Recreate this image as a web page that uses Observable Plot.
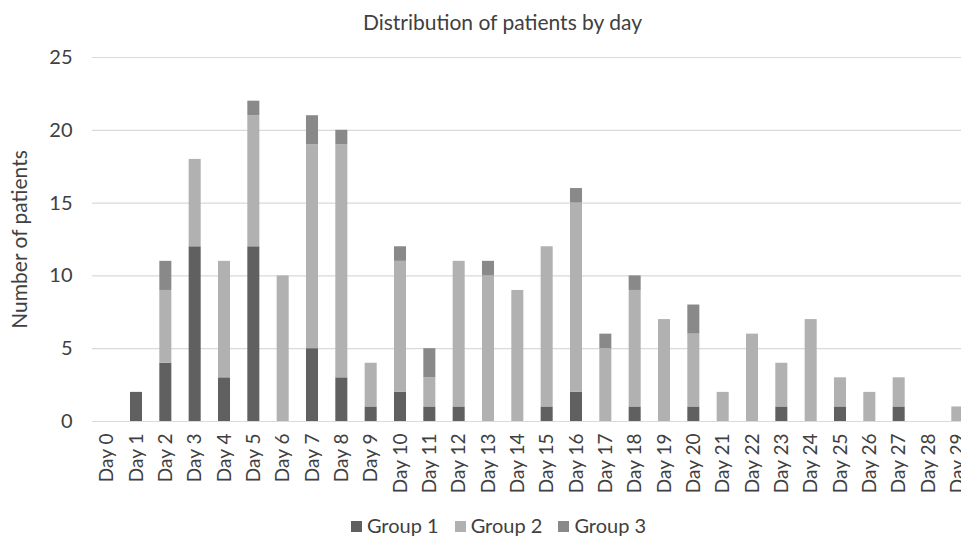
<!DOCTYPE html>
<html>
<head>
<meta charset="utf-8">
<script src="https://cdn.jsdelivr.net/npm/d3@7"></script>
<script src="https://cdn.jsdelivr.net/npm/@observablehq/plot@0.6"></script>
<style>
  html, body { margin: 0; padding: 0; background: #fff; overflow: hidden; width: 961px; height: 538px; }
  body { font-family: Lato, "Open Sans", sans-serif; color: #404040; }
  #title { width: 917px; padding-left: 44px; height: 44px; line-height: 44px; text-align: center; font-size: 21px; }
  #chart { width: 961px; overflow: hidden; height: 452px; }
  #chart svg { max-width: none !important; display: block; }
  #legend { width: 917px; padding-left: 40px; margin-top: 18px; height: 22px; line-height: 22px; text-align: center; font-size: 20px; white-space: nowrap; }
  #legend span.item { display: inline-block; margin: 0 8px; }
  #legend span.sw { display: inline-block; width: 11px; height: 11px; margin-right: 5px; vertical-align: 1px; }
</style>
</head>
<body>
<div id="title">Distribution of patients by day</div>
<div id="chart"></div>
<div id="legend"></div>
<script>
const days = ["Day 0","Day 1","Day 2","Day 3","Day 4","Day 5","Day 6","Day 7","Day 8","Day 9",
  "Day 10","Day 11","Day 12","Day 13","Day 14","Day 15","Day 16","Day 17","Day 18","Day 19",
  "Day 20","Day 21","Day 22","Day 23","Day 24","Day 25","Day 26","Day 27","Day 28","Day 29"];
const group1 = [0,2,4,12,3,12,0,5,3,1, 2,1,1,0,0,1,2,0,1,0, 1,0,0,1,0,1,0,1,0,0];
const group2 = [0,0,5,6,8,9,10,14,16,3, 9,2,10,10,9,11,13,5,8,7, 5,2,6,3,7,2,2,2,0,1];
const group3 = [0,0,2,0,0,1,0,2,1,0, 1,2,0,1,0,0,1,1,1,0, 2,0,0,0,0,0,0,0,0,0];
const groups = ["Group 1","Group 2","Group 3"];
const colors = ["#606060","#b1b1b1","#898989"];
const yTicks = [0,5,10,15,20,25];

const rows = [];
days.forEach((d, i) => {
  rows.push({day: d, group: groups[0], value: group1[i]});
  rows.push({day: d, group: groups[1], value: group2[i]});
  rows.push({day: d, group: groups[2], value: group3[i]});
});

const chart = Plot.plot({
  width: 980,
  height: 452,
  marginLeft: 92,
  marginRight: 8,
  marginTop: 13,
  marginBottom: 75,
  style: {fontFamily: "Lato, 'Open Sans', sans-serif", fontSize: "20px", color: "#404040", background: "transparent", maxWidth: "none"},
  x: {domain: days, paddingInner: 0.59, paddingOuter: 0.295, round: false, label: null},
  y: {domain: [0, 25], label: null},
  color: {domain: groups, range: colors},
  marks: [
    Plot.gridY(yTicks, {stroke: "#d9d9d9", strokeOpacity: 1, strokeWidth: 1.2}),
    Plot.barY(rows, {x: "day", y: "value", fill: "group", order: groups}),
    Plot.axisY(yTicks, {tickSize: 0, tickPadding: 20, fontSize: 20, label: null}),
    Plot.axisX({tickSize: 0, tickPadding: 12, tickRotate: -90, fontSize: 19, label: null}),
    Plot.text(["Number of patients"], {frameAnchor: "left", textAnchor: "middle", dx: -72, rotate: -90, fontSize: 21, fill: "#404040"})
  ]
});
document.getElementById("chart").appendChild(chart);

const legend = document.getElementById("legend");
groups.forEach((g, i) => {
  const item = document.createElement("span");
  item.className = "item";
  const sw = document.createElement("span");
  sw.className = "sw";
  sw.style.background = colors[i];
  item.appendChild(sw);
  item.appendChild(document.createTextNode(g));
  legend.appendChild(item);
});
</script>
</body>
</html>
